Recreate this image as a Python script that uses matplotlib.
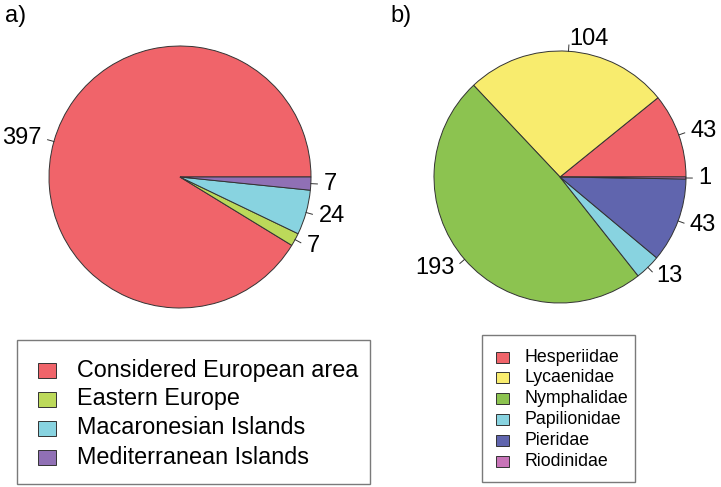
import matplotlib
matplotlib.use('Agg')
import matplotlib.pyplot as plt
from matplotlib.patches import Rectangle
import numpy as np

# figure size in pixels
W, H = 721, 487

# a) species by area
region_labels = ['Considered European area', 'Eastern Europe',
                 'Macaronesian Islands', 'Mediterranean Islands']
region_counts = [397, 7, 24, 7]
region_colors = ['#F0646A', '#BCD95A', '#88D3E0', '#9070B5']

# b) species by family
family_labels = ['Hesperiidae', 'Lycaenidae', 'Nymphalidae',
                 'Papilionidae', 'Pieridae', 'Riodinidae']
family_counts = [43, 104, 193, 13, 43, 1]
family_colors = ['#F0646A', '#F8EC6E', '#8CC350', '#88D3E0', '#6065AE', '#C874B8']

plt.rcParams['font.family'] = ['Liberation Sans', 'DejaVu Sans']

fig = plt.figure(figsize=(W / 100, H / 100), dpi=100)
ax = fig.add_axes([0, 0, 1, 1])


# pie in R style: counter-clockwise from 3 o'clock, labels outside with ticks
def draw_pie(cx, cy, r, counts, colors):
    cy = H - cy
    wedges, _ = ax.pie(counts, colors=colors, startangle=0, counterclock=True,
                       center=(cx, cy), radius=r, frame=True,
                       wedgeprops=dict(edgecolor='#333333', linewidth=0.7))
    for w, n in zip(wedges, counts):
        a = np.deg2rad((w.theta1 + w.theta2) / 2)
        dx, dy = np.cos(a), np.sin(a)
        ax.plot([cx + r * dx, cx + 1.05 * r * dx], [cy + r * dy, cy + 1.05 * r * dy],
                color='#333333', lw=0.7)
        ax.text(cx + 1.1 * r * dx, cy + 1.1 * r * dy, str(n), fontsize=17,
                ha='left' if dx >= 0 else 'right', va='center')


# legend box drawn by hand so it sits where the original does
def draw_legend(x0, y0, x1, y1, labels, colors, key_x, key_w, key_h, text_x, row0, step, fs):
    ax.add_patch(Rectangle((x0, H - y1), x1 - x0, y1 - y0, fill=False,
                           edgecolor='#7a7a7a', lw=1.0))
    for i, (lab, col) in enumerate(zip(labels, colors)):
        yc = H - (row0 + i * step)
        ax.add_patch(Rectangle((key_x, yc - key_h / 2), key_w, key_h,
                               facecolor=col, edgecolor='#333333', lw=0.7))
        ax.text(text_x, yc, lab, fontsize=fs, ha='left', va='center')


draw_pie(180, 177, 131, region_counts, region_colors)
draw_pie(560, 177, 126, family_counts, family_colors)

draw_legend(17, 340, 370, 484, region_labels, region_colors,
            38, 18, 15, 77, 370, 29, 16.8)
draw_legend(482, 335, 635, 482, family_labels, family_colors,
            496, 13, 11, 525, 357, 20.8, 12.8)

ax.text(5, H - 16, 'a)', fontsize=17, ha='left', va='center')
ax.text(390, H - 16, 'b)', fontsize=17, ha='left', va='center')

ax.set_xlim(0, W)
ax.set_ylim(0, H)
ax.set_aspect('equal')
ax.axis('off')

fig.savefig('out.png', dpi=100)
